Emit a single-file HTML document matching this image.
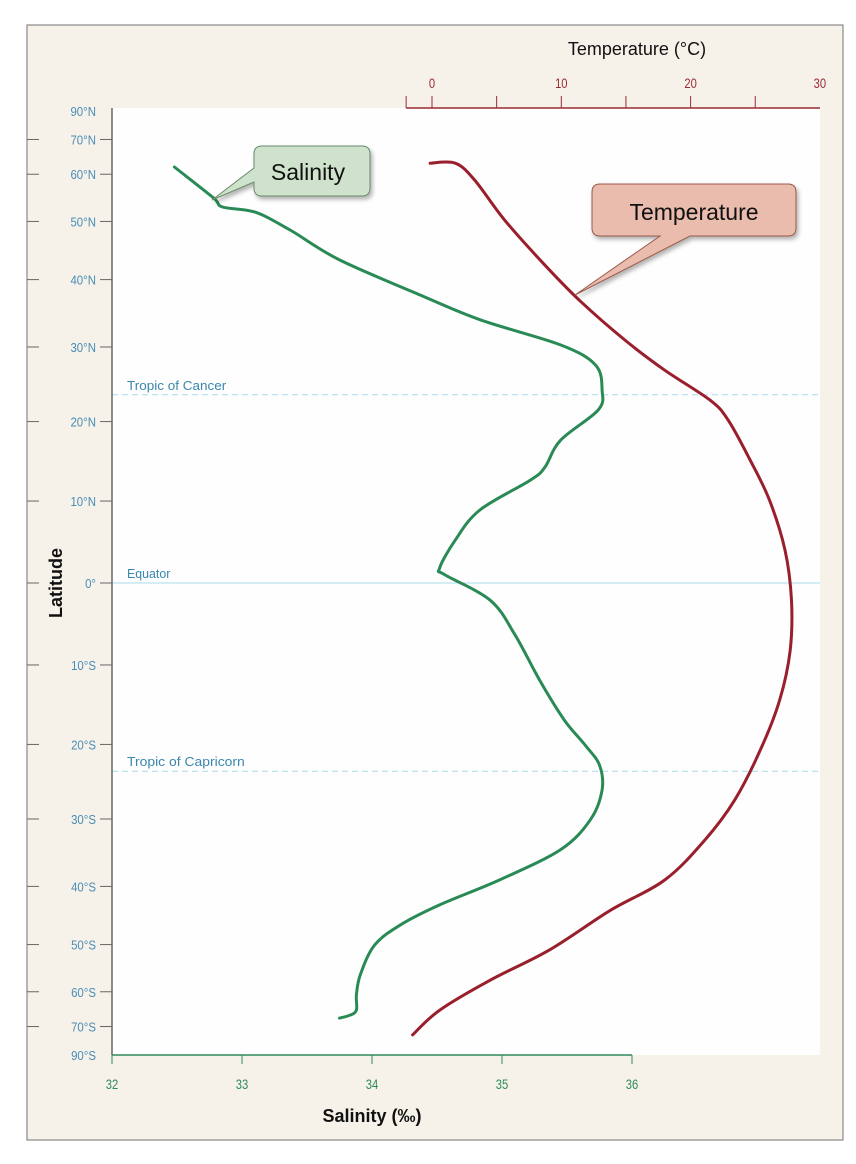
<!DOCTYPE html>
<html><head><meta charset="utf-8"><style>
body{margin:0;background:#fff;}
svg{display:block;font-family:"Liberation Sans",sans-serif;}
</style></head><body>
<svg width="856" height="1164" viewBox="0 0 856 1164">
<defs><filter id="sh" x="-20%" y="-20%" width="140%" height="150%"><feDropShadow dx="2" dy="3" stdDeviation="2" flood-color="#000" flood-opacity="0.3"/></filter></defs>
<rect x="27" y="25" width="816" height="1115" fill="#f6f2ea" stroke="#888" stroke-width="1.2"/>
<rect x="112" y="108" width="708" height="947" fill="#fefefe"/>
<g id="grid"></g>
<g id="axes"></g>
<g id="series"></g>
<g id="callouts">
<g filter="url(#sh)">
<path d="M262,146 H362 Q370,146 370,154 V188 Q370,196 362,196 H262 Q254,196 254,188 V182 L212,200 L254,168 V154 Q254,146 262,146 Z" fill="#cfe3cc" stroke="#6a8a6a" stroke-width="1"/>
</g>
<text x="308" y="180" font-size="23" text-anchor="middle" fill="#111">Salinity</text>
<g filter="url(#sh)">
<path d="M600,184 H788 Q796,184 796,192 V228 Q796,236 788,236 H690 L575,295 L660,236 H600 Q592,236 592,228 V192 Q592,184 600,184 Z" fill="#e9bcad" stroke="#9a5a4a" stroke-width="1"/>
</g>
<text x="694" y="220" font-size="23" text-anchor="middle" fill="#111">Temperature</text>
</g>
<text x="637" y="55" font-size="18" text-anchor="middle" fill="#111">Temperature (°C)</text>
<text x="372" y="1122" font-size="18" font-weight="bold" text-anchor="middle" fill="#111">Salinity (‰)</text>
<text transform="translate(62,583) rotate(-90)" font-size="18" font-weight="bold" text-anchor="middle" fill="#111">Latitude</text>
</svg>
<script>
const latTicks=[90,70,60,50,40,30,20,10,0,-10,-20,-30,-40,-50,-60,-70,-90];
const latLabels=["90°N","70°N","60°N","50°N","40°N","30°N","20°N","10°N","0°","10°S","20°S","30°S","40°S","50°S","60°S","70°S","90°S"];
const salTicks=[32,33,34,35,36];
const tempTicks=[0,10,20,30];
const tempMinor=[-2,5,15,25];
const salLat=[61.8,54.7,52.8,51.8,48.4,43.2,37.6,33.9,30.3,27.5,24.1,21.5,17.6,14.2,12.6,8.9,5.2,1.8,1.0,-2.1,-6.3,-11.9,-16.9,-20.1,-22.7,-26.0,-30.1,-34.4,-39.0,-43.0,-46.4,-50.1,-56.1,-60.8,-64.8,-66.3,-67.2];
const salVal=[32.48,32.78,32.85,33.1,33.37,33.75,34.37,34.83,35.45,35.72,35.77,35.74,35.45,35.33,35.22,34.83,34.64,34.52,34.56,34.91,35.1,35.29,35.48,35.64,35.75,35.77,35.68,35.45,34.98,34.52,34.22,34.02,33.91,33.88,33.88,33.83,33.75];
const tempLat=[62.8,62.8,58.6,50.3,42.4,36.8,31.0,26.8,22.8,20.2,15.1,10.1,4.0,-2.1,-8.2,-14.3,-20.7,-27.4,-33.0,-39.0,-43.9,-51.0,-57.3,-64.8,-73.2];
const tempVal=[-0.15,1.8,3.3,5.6,8.7,11.4,14.9,18.0,21.5,22.9,24.6,26.1,27.3,27.8,27.7,26.9,25.4,23.4,21.1,18.0,13.8,9.1,4.5,0.6,-1.5];
const tropics=[{lat:23.5,label:"Tropic of Cancer"},{lat:0,label:"Equator"},{lat:-23.5,label:"Tropic of Capricorn"}];

const NS="http://www.w3.org/2000/svg";
const yLat=l=>583-472*Math.sin(l*Math.PI/180);
const xSal=s=>112+(s-32)*130;
const xTemp=t=>432+t*12.93;
function mk(tag,attrs,parent,txt){const e=document.createElementNS(NS,tag);for(const k in attrs)e.setAttribute(k,attrs[k]);if(txt!==undefined)e.textContent=txt;parent.appendChild(e);return e;}
const grid=document.getElementById('grid'),axes=document.getElementById('axes'),series=document.getElementById('series');

tropics.forEach(t=>{const y=yLat(t.lat);
 const ln=mk('line',{x1:112,x2:820,y1:y,y2:y,stroke:'#a9d9e8','stroke-width':1,'stroke-dasharray':t.lat===0?'':'6,4'},grid);
 
 
 const tx=mk('text',{x:127,y:y-5,'font-size':13,fill:'#3a86ad',textLength:t.label.length*6.2,lengthAdjust:'spacingAndGlyphs'},grid,t.label);
 
 
});

const la=mk('line',{x1:112,x2:112,y1:108,y2:1055,stroke:'#666','stroke-width':1.5},axes);


latTicks.forEach((l,i)=>{const y=yLat(l);
 if(Math.abs(l)!==90){
  const a=mk('line',{x1:27,x2:39,y1:y,y2:y,stroke:'#666','stroke-width':1},axes);
  
  
  const b=mk('line',{x1:100,x2:112,y1:y,y2:y,stroke:'#666','stroke-width':1},axes);
  
  
 }
 const t=mk('text',{x:96,y:y+5,'font-size':13,'text-anchor':'end',fill:'#4a8db5',transform:`translate(96,0) scale(0.88,1) translate(-96,0)`},axes,latLabels[i]);
 
 
});

const sa=mk('line',{x1:112,x2:632,y1:1055,y2:1055,stroke:'#2e8a5a','stroke-width':1.5},axes);


salTicks.forEach(s=>{const x=xSal(s);
 const a=mk('line',{x1:x,x2:x,y1:1055,y2:1064,stroke:'#2e8a5a','stroke-width':1},axes);
 
 
 const t=mk('text',{x:x,y:1089,'font-size':14,'text-anchor':'middle',fill:'#2e8a5a',transform:`translate(${x},0) scale(0.8,1) translate(${-x},0)`},axes,String(s));
 
 
});

const ta=mk('line',{x1:xTemp(-2),x2:820,y1:108,y2:108,stroke:'#9b2a35','stroke-width':1.5},axes);


tempMinor.concat(tempTicks.slice(0,3)).forEach(v=>{const x=xTemp(v);
 const a=mk('line',{x1:x,x2:x,y1:96,y2:108,stroke:'#9b2a35','stroke-width':1},axes);
 
 
});
tempTicks.forEach(v=>{const x=xTemp(v);
 const t=mk('text',{x:x,y:88,'font-size':14,'text-anchor':'middle',fill:'#9b2a35',transform:`translate(${x},0) scale(0.8,1) translate(${-x},0)`},axes,String(v));
 
 
});

function smooth(xs,ys){
 let d='M'+xs[0].toFixed(1)+','+ys[0].toFixed(1);
 for(let i=0;i<xs.length-1;i++){
  const x0=xs[Math.max(i-1,0)],y0=ys[Math.max(i-1,0)],x1=xs[i],y1=ys[i],x2=xs[i+1],y2=ys[i+1],x3=xs[Math.min(i+2,xs.length-1)],y3=ys[Math.min(i+2,xs.length-1)];
  const c1x=x1+(x2-x0)/6,c1y=y1+(y2-y0)/6,c2x=x2-(x3-x1)/6,c2y=y2-(y3-y1)/6;
  d+=` C${c1x.toFixed(1)},${c1y.toFixed(1)} ${c2x.toFixed(1)},${c2y.toFixed(1)} ${x2.toFixed(1)},${y2.toFixed(1)}`;
 }
 return d;
}
const sp=mk('path',{d:smooth(salVal.map(xSal),salLat.map(yLat)),fill:'none',stroke:'#2a8a55','stroke-width':3,'stroke-linejoin':'round','stroke-linecap':'round'},series);


const tp=mk('path',{d:smooth(tempVal.map(xTemp),tempLat.map(yLat)),fill:'none',stroke:'#9a1f2c','stroke-width':3,'stroke-linejoin':'round','stroke-linecap':'round'},series);


</script>
</body></html>
